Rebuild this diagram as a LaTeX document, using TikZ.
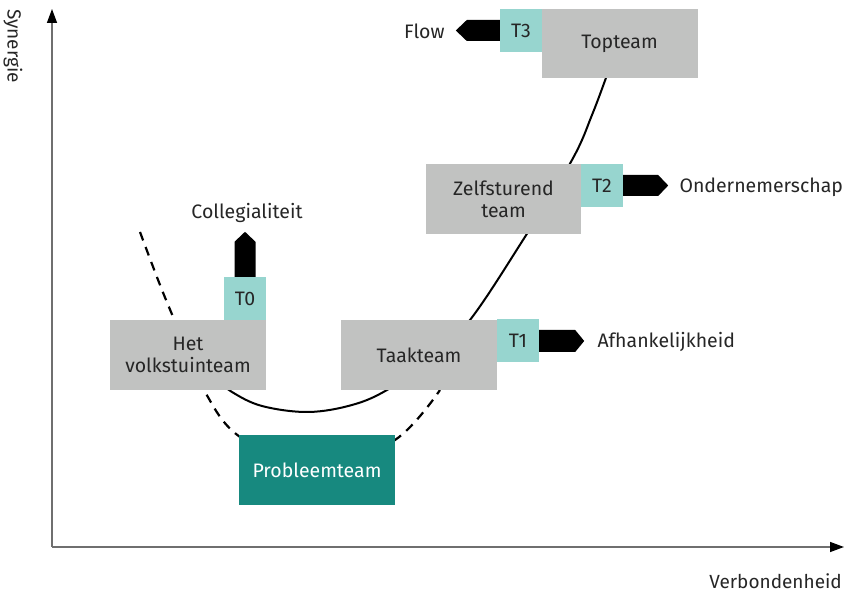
\documentclass[tikz,border=0pt]{standalone}
\usepackage{fontspec}
\setmainfont{Fira Sans}
\usetikzlibrary{arrows.meta,calc}
\definecolor{boxgray}{HTML}{C1C2C1}
\definecolor{tealL}{HTML}{97D5CF}
\definecolor{tealD}{HTML}{17897F}
\definecolor{axisgray}{HTML}{6F6F6F}
\begin{document}
\begin{tikzpicture}[x=1pt,y=-1pt,
  every node/.style={font=\fontsize{19.5}{22}\selectfont, text=black!85},
  teambox/.style={fill=boxgray, minimum width=156pt, minimum height=70pt, inner sep=0pt, align=center},
  tbox/.style={fill=tealL, minimum width=42pt, minimum height=43pt, inner sep=0pt},
  probbox/.style={fill=tealD, minimum width=156pt, minimum height=70pt, inner sep=0pt, text=white},
  axisline/.style={draw=axisgray, line width=1.4pt, -{Triangle[length=14pt,width=10pt,fill=black,color=black]}},
  blockarrow/.style={fill=black},
  solidcurve/.style={draw=black, line width=2pt},
  dashcurve/.style={draw=black, line width=2.2pt, dash pattern=on 9pt off 7pt}
]
\useasboundingbox (0,0) rectangle (844,593);
\fill[white] (0,0) rectangle (844,593);

% curves (behind boxes)
\draw[dashcurve] plot[smooth, tension=0.6] coordinates {(140,232) (162,290) (185,345) (205,392) (240,437) (317,472) (395,440) (440,390)};
\draw[solidcurve] plot[smooth, tension=0.6] coordinates {(215,378) (232,392) (262,406) (308,412) (352,405) (387,390) (430,360) (470,320) (523,240) (572,160) (592,115) (607,75)};

% axes
\coordinate (O) at (52,547);
\coordinate (ytop) at (52,9);
\coordinate (xend) at (844,547);
\draw[axisline] (O) -- (ytop);
\draw[axisline] (O) -- (xend);
\node[rotate=-90, font=\fontsize{19}{22}\selectfont] (ylab) at (13,46) {Synergie};
\node[anchor=base east, inner sep=0pt, font=\fontsize{19}{22}\selectfont] (xlab) at (842,588) {Verbondenheid};

% boxes
\node[teambox, minimum height=69pt] (top) at (619.5,43.5) {Topteam};
\node[tbox] (t3) at (521,30.5) {T3};
\node[teambox, minimum width=155pt] (zelf) at (503.5,199) {Zelfsturend\\team};
\node[tbox] (t2) at (602,185.5) {T2};
\node[teambox] (taak) at (419,355) {Taakteam};
\node[tbox] (t1) at (518,341) {T1};
\node[teambox] (volk) at (188,355) {Het\\volkstuinteam};
\node[tbox] (t0) at (245,298.5) {T0};
\node[probbox] (prob) at (317,470) {Probleemteam};

% labels
\node[anchor=east] (flow) at (448,31) {Flow};
\node[anchor=west] (onder) at (676,187) {Ondernemerschap};
\node[anchor=west] (afh) at (594,342) {Afhankelijkheid};
\node (coll) at (247,213) {Collegialiteit};

% block arrows
\fill[blockarrow] ($(t0.north)+(-10.5,0)$) -- ++(0,-35) -- ($(t0.north)+(0,-45)$) -- ($(t0.north)+(10.5,-35)$) -- ($(t0.north)+(10.5,0)$) -- cycle;
\fill[blockarrow] ($(t1.east)+(0,-11)$) -- ++(36,0) -- ($(t1.east)+(45,0)$) -- ($(t1.east)+(36,11)$) -- ($(t1.east)+(0,11)$) -- cycle;
\fill[blockarrow] ($(t2.east)+(0,-10.5)$) -- ++(35,0) -- ($(t2.east)+(45,0)$) -- ($(t2.east)+(35,10.5)$) -- ($(t2.east)+(0,10.5)$) -- cycle;
\fill[blockarrow] ($(t3.west)+(0,-10.5)$) -- ++(-33,0) -- ($(t3.west)+(-44,0)$) -- ($(t3.west)+(-33,10.5)$) -- ($(t3.west)+(0,10.5)$) -- cycle;
\end{tikzpicture}
\end{document}
